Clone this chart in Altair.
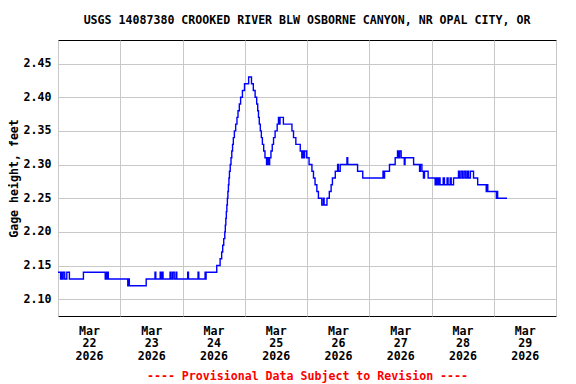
import json
import altair as alt
import pandas as pd

# Hours since Mar 22 2026 00:00 at which the gage height changes (step series)
hours = [
    0.0, 1.0, 1.3, 1.6, 2.0, 2.6, 3.4, 4.4, 9.8, 18.2, 18.5, 18.8, 19.1, 19.4,
    26.9, 27.2, 27.5, 34.0, 37.4, 37.7, 39.4, 39.7, 40.2, 40.5, 43.2, 43.6,
    44.2, 44.8, 45.5, 45.8, 50.0, 50.3, 54.0, 54.3, 56.7, 56.9, 57.1,
    61.2, 62.5, 63.1, 63.5, 63.9, 64.3, 64.5, 64.7, 64.9, 65.1, 65.3, 65.5,
    65.7, 65.9, 66.1, 66.4, 66.7, 67.0, 67.3, 67.6, 68.0, 68.5, 69.0, 69.4,
    69.9, 70.4, 71.1, 71.9, 73.5, 74.6, 75.3, 76.0, 76.6, 77.0, 77.3, 77.6,
    78.0, 78.4, 78.8, 79.3, 79.8, 80.4, 80.8, 81.2, 81.6, 82.1, 82.6, 83.1,
    83.7, 84.5, 85.0, 85.3, 85.6, 86.9, 90.2, 90.8, 91.7, 93.4, 94.0, 94.3,
    94.8, 95.1, 95.9, 96.8, 97.9, 98.5, 99.1, 99.8, 100.4, 101.7, 102.3,
    102.6, 103.7, 104.6, 105.3, 105.8, 106.9, 107.8, 108.1, 108.8, 111.4,
    111.7, 115.5, 117.5, 125.3, 125.6, 125.9, 127.8, 130.0, 130.9, 131.4,
    131.7, 132.3, 133.5, 133.8, 137.1, 139.4, 139.7, 140.3, 140.9, 141.3,
    142.7, 145.4, 145.8, 146.3, 146.8, 147.3, 148.5, 149.0, 150.0, 150.4,
    151.2, 151.6, 152.5, 154.4, 154.8, 155.4, 156.0, 156.6, 157.2, 157.8,
    158.3, 159.0, 160.2, 161.8, 165.1, 165.4, 165.7, 169.0, 169.3, 169.5,
    173.1,
]
gage = [
    2.14, 2.13, 2.14, 2.13, 2.14, 2.13, 2.14, 2.13, 2.14, 2.13, 2.14, 2.13, 2.14, 2.13,
    2.12, 2.13, 2.12, 2.13, 2.14, 2.13, 2.14, 2.13, 2.14, 2.13, 2.14, 2.13,
    2.14, 2.13, 2.14, 2.13, 2.14, 2.13, 2.14, 2.13, 2.14, 2.13, 2.14,
    2.15, 2.16, 2.17, 2.18, 2.19, 2.20, 2.21, 2.22, 2.23, 2.24, 2.25, 2.26,
    2.27, 2.28, 2.29, 2.30, 2.31, 2.32, 2.33, 2.34, 2.35, 2.36, 2.37, 2.38,
    2.39, 2.40, 2.41, 2.42, 2.43, 2.42, 2.41, 2.40, 2.39, 2.38, 2.37, 2.36,
    2.35, 2.34, 2.33, 2.32, 2.31, 2.30, 2.31, 2.30, 2.31, 2.32, 2.33, 2.34,
    2.35, 2.36, 2.37, 2.36, 2.37, 2.36, 2.35, 2.34, 2.33, 2.32, 2.31, 2.32,
    2.31, 2.32, 2.31, 2.30, 2.29, 2.28, 2.27, 2.26, 2.25, 2.24, 2.25,
    2.24, 2.25, 2.26, 2.27, 2.28, 2.29, 2.30, 2.29, 2.30, 2.31,
    2.30, 2.29, 2.28, 2.29, 2.28, 2.29, 2.30, 2.31, 2.32, 2.31,
    2.32, 2.31, 2.30, 2.31, 2.30, 2.29, 2.30, 2.29, 2.28, 2.29,
    2.28, 2.27, 2.28, 2.27, 2.28, 2.27, 2.28, 2.27, 2.28, 2.27,
    2.28, 2.27, 2.28, 2.29, 2.28, 2.29, 2.28, 2.29, 2.28, 2.29,
    2.28, 2.29, 2.28, 2.27, 2.26, 2.27, 2.26, 2.25, 2.26, 2.25,
    2.25,
]

day_ticks = [0, 24, 48, 72, 96, 120, 144, 168, 192]
day_labels = [
    ["Mar", "22", "2026"], ["Mar", "23", "2026"], ["Mar", "24", "2026"],
    ["Mar", "25", "2026"], ["Mar", "26", "2026"], ["Mar", "27", "2026"],
    ["Mar", "28", "2026"], ["Mar", "29", "2026"],
]
y_ticks = [2.10, 2.15, 2.20, 2.25, 2.30, 2.35, 2.40, 2.45]

title_text = "USGS 14087380 CROOKED RIVER BLW OSBORNE CANYON, NR OPAL CITY, OR"
y_title = "Gage height, feet"
footer = "---- Provisional Data Subject to Revision ----"

df = pd.DataFrame({"hours": hours, "gage": gage})

FONT = "DejaVu Sans Mono"
FS = 11.6
GRID = "#c8c8c8"

label_expr = json.dumps(day_labels) + "[round(datum.value / 24)] || ''"

chart = alt.Chart(df).mark_line(
    color="#0000ff", strokeWidth=1.4, interpolate="step-after"
).encode(
    x=alt.X(
        "hours:Q",
        scale=alt.Scale(domain=[0, 192], nice=False, zero=False),
        axis=alt.Axis(
            values=day_ticks, labelExpr=label_expr, labelOffset=31,
            labelFont=FONT, labelFontSize=FS, labelFontWeight="bold",
            labelColor="black", labelLineHeight=12.5, labelPadding=9,
            labelOverlap=False, labelBound=False, labelFlush=False,
            ticks=False, domain=False, grid=True, gridColor=GRID, gridOpacity=1,
            title=footer, titleColor="#ff0000", titleFont=FONT,
            titleFontSize=FS, titleFontWeight="bold", titlePadding=9,
        ),
    ),
    y=alt.Y(
        "gage:Q",
        scale=alt.Scale(domain=[2.075, 2.485], nice=False, zero=False),
        axis=alt.Axis(
            values=y_ticks, format=".2f",
            labelFont=FONT, labelFontSize=FS, labelFontWeight="bold",
            labelColor="black", labelPadding=7,
            ticks=False, domain=False, grid=True, gridColor=GRID, gridOpacity=1,
            title=y_title, titleFont=FONT, titleFontSize=FS,
            titleFontWeight="bold", titleColor="black", titlePadding=4,
        ),
    ),
).properties(
    width=498,
    height=276,
    title=alt.TitleParams(
        text=title_text, font=FONT, fontSize=FS, fontWeight="bold",
        color="black", anchor="middle", baseline="bottom", offset=2,
    ),
    autosize=alt.AutoSizeParams(type="none"),
    padding={"left": 50, "top": 32, "right": 12, "bottom": 68},
).configure_view(stroke="black", strokeWidth=1)

chart.save("out.html", embed_options={"renderer": "svg", "actions": False})
